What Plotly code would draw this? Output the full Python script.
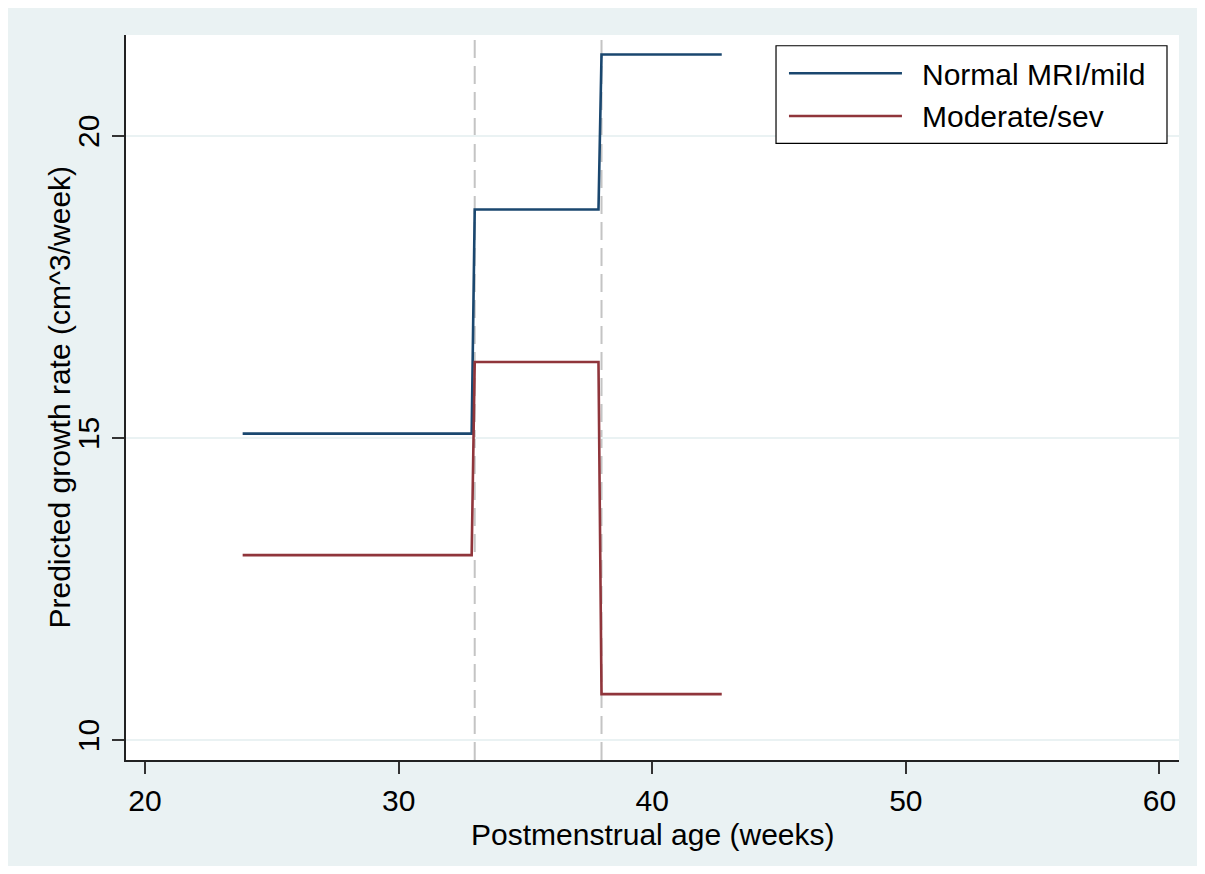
import plotly.graph_objects as go

# ---- data ----
series_names = ["Normal MRI/mild", "Moderate/sev"]
pma_weeks = [23.85, 32.88, 33.0, 37.88, 38.0, 42.74]
rate_normal = [15.07, 15.07, 18.78, 18.78, 21.345, 21.345]
rate_modsev = [13.06, 13.06, 16.257, 16.257, 10.76, 10.76]
knots = [33, 38]
x_ticks = [20, 30, 40, 50, 60]
y_ticks = [10, 15, 20]
x_title = "Postmenstrual age (weeks)"
y_title = "Predicted growth rate (cm^3/week)"

colors = ["#1a476f", "#90353b"]
BG = "#EAF2F3"
FONT = "Liberation Sans, Arial, sans-serif"
FS = 30

fig = go.Figure()
for name, ys, c in zip(series_names, [rate_normal, rate_modsev], colors):
    fig.add_trace(go.Scatter(x=pma_weeks, y=ys, mode="lines", name=name,
                             line=dict(color=c, width=2.6), showlegend=False))

for k in knots:
    fig.add_shape(type="line", xref="x", yref="paper", x0=k, x1=k, y0=0, y1=1,
                  line=dict(color="#C4C4C4", width=2, dash="18px,8px"), layer="below")

# manual legend (Stata style)
fig.add_shape(type="rect", xref="paper", yref="paper", x0=0.6173, x1=0.9886,
              y0=0.8506, y1=0.9852, line=dict(color="#000000", width=1.2),
              fillcolor="white", layer="above")
leg_y_line = [0.9472, 0.8883]
leg_y_text = [0.9455, 0.8869]
for name, c, yl, yt in zip(series_names, colors, leg_y_line, leg_y_text):
    fig.add_shape(type="line", xref="paper", yref="paper", x0=0.6296, x1=0.7369,
                  y0=yl, y1=yl, line=dict(color=c, width=2.6), layer="above")
    fig.add_annotation(xref="paper", yref="paper", x=0.754, y=yt, text=name,
                       showarrow=False, xanchor="left", yanchor="middle",
                       font=dict(family=FONT, size=FS, color="black"))

# axis titles
fig.add_annotation(xref="paper", yref="paper", x=0.5, y=-0.1034, text=x_title,
                   showarrow=False, xanchor="center", yanchor="middle",
                   font=dict(family=FONT, size=FS, color="black"))
fig.add_annotation(xref="paper", yref="paper", x=-0.0636, y=0.5, text=y_title,
                   textangle=-90, showarrow=False, xanchor="center", yanchor="middle",
                   font=dict(family=FONT, size=FS, color="black"))

fig.update_layout(
    width=1189, height=858,
    margin=dict(l=118, r=18, t=27, b=106, pad=0),
    paper_bgcolor=BG, plot_bgcolor="white",
    font=dict(family=FONT, size=FS, color="black"),
    showlegend=False,
)
fig.update_xaxes(range=[19.25, 60.77], tickvals=x_ticks, ticks="outside", ticklen=12,
                 tickwidth=1.5, tickcolor="#333333", showline=True, linecolor="#222222",
                 linewidth=2, showgrid=False, zeroline=False, ticklabelstandoff=1)
fig.update_yaxes(range=[9.67, 21.667], tickvals=y_ticks, ticks="outside", ticklen=12,
                 tickwidth=1.5, tickcolor="#333333", showline=True, linecolor="#222222",
                 linewidth=2, showgrid=True, gridcolor=BG, gridwidth=2, zeroline=False,
                 tickangle=-90, ticklabelstandoff=1)

fig.write_html("out.html")
